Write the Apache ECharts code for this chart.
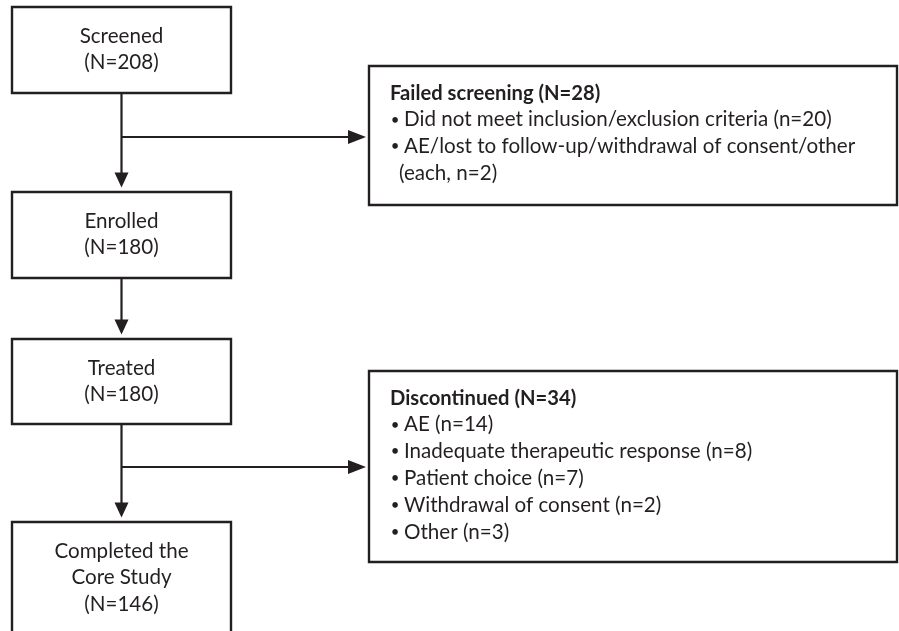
<!DOCTYPE html>
<html><head><meta charset="utf-8">
<script src="https://cdn.jsdelivr.net/npm/echarts@6/dist/echarts.min.js"></script>
<style>html,body{margin:0;padding:0;background:#fff}#chart{width:899px;height:631px}</style>
</head><body><div id="chart"></div>
<script>
// ---- data ----
const stageNames = ['Screened', 'Enrolled', 'Treated', 'Completed the\nCore Study'];
const stageCounts = [208, 180, 180, 146];
const exitTitles = ['Failed screening', 'Discontinued'];
const exitCounts = [28, 34];
const exitAfterStage = [0, 2];
const failedLabels = ['Did not meet inclusion/exclusion criteria', 'AE/lost to follow-up/withdrawal of consent/other'];
const failedCounts = [20, 2];
const failedEach = [false, true];
const discontinuedLabels = ['AE', 'Inadequate therapeutic response', 'Patient choice', 'Withdrawal of consent', 'Other'];
const discontinuedCounts = [14, 8, 7, 2, 3];

// ---- layout (page units) ----
const L = {
  mainLeft: 12, mainRight: 231,
  mainTops: [7, 192, 339, 522], mainBottoms: [93, 278, 424, 645],
  sideLeft: 369, sideRight: 897,
  sideTops: [66, 371], sideBottoms: [205, 562],
  branchY: [137, 467],
  lineH: 26.8, mainFirst: 29, sideFirst: 27,
  titleX: 390, bulletX: 395, textX: 404, contX: 399,
  gap: 4.5, sideGap: 3
};
const INK = '#231f20';
const FONT = '"Lato", "Open Sans", sans-serif';
const FS = 20.6;
const FSB = 20.2;

function exitLines(i) {
  const lines = [{ t: exitTitles[i] + ' (N=' + exitCounts[i] + ')', bold: true }];
  if (i === 0) {
    failedLabels.forEach((lab, k) => {
      if (failedEach[k]) {
        lines.push({ t: lab, bullet: true });
        lines.push({ t: '(each, n=' + failedCounts[k] + ')', cont: true });
      } else {
        lines.push({ t: lab + ' (n=' + failedCounts[k] + ')', bullet: true });
      }
    });
  } else {
    discontinuedLabels.forEach((lab, k) => {
      lines.push({ t: lab + ' (n=' + discontinuedCounts[k] + ')', bullet: true });
    });
  }
  return lines;
}

const items = [];
stageNames.forEach((s, i) => items.push([0, i]));
exitTitles.forEach((s, i) => items.push([1, i]));
for (let i = 0; i < stageNames.length - 1; i++) items.push([2, i]);
exitTitles.forEach((s, i) => items.push([3, i]));

function renderItem(params, api) {
  const kind = api.value(0), i = api.value(1);
  const P = (x, y) => api.coord([x, y]);
  const txt = (t, x, y, opt) => {
    const p = P(x, y);
    return { type: 'text', style: Object.assign({ text: t, x: p[0], y: p[1], fill: INK,
      font: (opt && opt.bold ? 'bold ' + FSB : FS) + 'px ' + FONT, align: 'left', verticalAlign: 'middle' }, opt && opt.style) };
  };
  const rect = (x0, y0, x1, y1) => {
    const a = P(x0, y0), b = P(x1, y1);
    return { type: 'rect', shape: { x: a[0], y: a[1], width: b[0] - a[0], height: b[1] - a[1] },
      style: { fill: '#fff', stroke: INK, lineWidth: 2.4 } };
  };
  const children = [];
  if (kind === 0) {
    children.push(rect(L.mainLeft, L.mainTops[i], L.mainRight, L.mainBottoms[i]));
    const lines = stageNames[i].split('\n').concat(['(N=' + stageCounts[i] + ')']);
    const cx = (L.mainLeft + L.mainRight) / 2;
    lines.forEach((t, k) => children.push(txt(t, cx, L.mainTops[i] + L.mainFirst + k * L.lineH, { style: { align: 'center' } })));
  } else if (kind === 1) {
    children.push(rect(L.sideLeft, L.sideTops[i], L.sideRight, L.sideBottoms[i]));
    exitLines(i).forEach((ln, k) => {
      const y = L.sideTops[i] + L.sideFirst + k * L.lineH;
      if (ln.bold) children.push(txt(ln.t, L.titleX, y, { bold: true }));
      else if (ln.cont) children.push(txt(ln.t, L.contX, y));
      else {
        children.push(txt('\u2022', L.bulletX, y, { style: { align: 'center', font: '15px ' + FONT } }));
        children.push(txt(ln.t, L.textX, y));
      }
    });
  } else if (kind === 2) {
    const cx = (L.mainLeft + L.mainRight) / 2;
    const a = P(cx, L.mainBottoms[i]), b = P(cx, L.mainTops[i + 1] - L.gap);
    children.push({ type: 'line', shape: { x1: a[0], y1: a[1], x2: b[0], y2: b[1] - 10 }, style: { stroke: INK, lineWidth: 2.2 } });
    children.push({ type: 'polygon', shape: { points: [[b[0] - 7, b[1] - 15], [b[0] + 7, b[1] - 15], [b[0], b[1]]] }, style: { fill: INK } });
  } else {
    const cx = (L.mainLeft + L.mainRight) / 2;
    const y = L.branchY[i];
    const a = P(cx, y), b = P(L.sideLeft - L.sideGap, y);
    children.push({ type: 'line', shape: { x1: a[0], y1: a[1], x2: b[0] - 10, y2: b[1] }, style: { stroke: INK, lineWidth: 2.2 } });
    children.push({ type: 'polygon', shape: { points: [[b[0] - 18, b[1] - 7], [b[0] - 18, b[1] + 7], [b[0], b[1]]] }, style: { fill: INK } });
  }
  return { type: 'group', children };
}

const chart = echarts.init(document.getElementById('chart'), null, { renderer: 'canvas' });
chart.setOption({
  animation: false,
  backgroundColor: '#fff',
  grid: { left: 0, right: 0, top: 0, bottom: 0 },
  xAxis: { type: 'value', min: 0, max: 899, show: false },
  yAxis: { type: 'value', min: 0, max: 631, inverse: true, show: false },
  series: [{ type: 'custom', renderItem, data: items, clip: false, silent: true }]
});
</script></body></html>
